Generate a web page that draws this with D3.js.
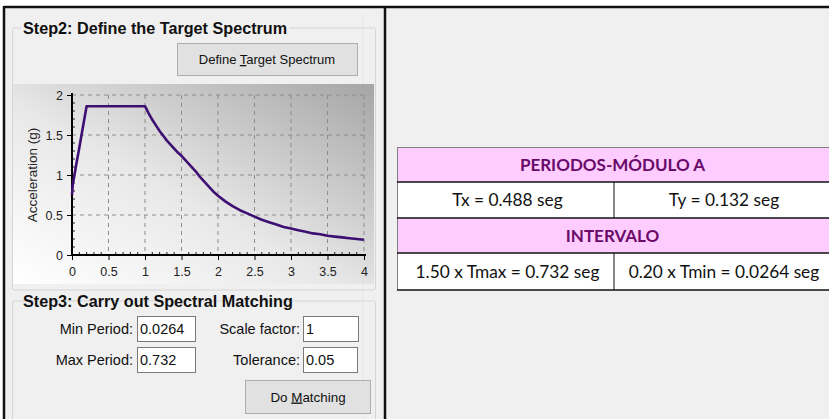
<!DOCTYPE html>
<html><head><meta charset="utf-8">
<script src="https://cdn.jsdelivr.net/npm/d3@7"></script>
<style>html,body{margin:0;padding:0;background:#fff;overflow:hidden}</style>
</head><body>
<svg id="c" width="829" height="419"></svg>
<script>
// ---- data ----
const periods = [0, 0.01, 0.03, 0.06, 0.1, 0.14, 0.2, 0.5, 1.0, 1.05, 1.1, 1.15, 1.2, 1.25, 1.3, 1.35, 1.4, 1.45, 1.5, 1.55, 1.6, 1.65, 1.7, 1.75, 1.8, 1.85, 1.9, 1.95, 2.0, 2.1, 2.2, 2.3, 2.4, 2.5, 2.6, 2.7, 2.8, 2.9, 3.0, 3.1, 3.2, 3.3, 3.4, 3.5, 3.6, 3.7, 3.8, 3.9, 4.0];
const accel = [0.75, 0.88, 0.98, 1.14, 1.34, 1.55, 1.86, 1.86, 1.86, 1.77, 1.69, 1.62, 1.55, 1.49, 1.43, 1.38, 1.33, 1.28, 1.24, 1.19, 1.14, 1.09, 1.04, 0.98, 0.93, 0.88, 0.83, 0.78, 0.74, 0.67, 0.61, 0.56, 0.52, 0.48, 0.44, 0.41, 0.38, 0.35, 0.33, 0.31, 0.29, 0.27, 0.26, 0.24, 0.23, 0.22, 0.21, 0.20, 0.19];
const xTicks = [0, 0.5, 1, 1.5, 2, 2.5, 3, 3.5, 4];
const yTicks = [0, 0.5, 1, 1.5, 2];
const yAxisTitle = "Acceleration (g)";
const step2Title = "Step2: Define the Target Spectrum";
const step3Title = "Step3: Carry out Spectral Matching";
const matchingLabels = ["Min Period:", "Max Period:", "Scale factor:", "Tolerance:"];
const matchingValues = ["0.0264", "0.732", "1", "0.05"];
const tableTitle = "PERIODOS-MÓDULO A";
const periodRow = ["Tx = 0.488 seg", "Ty = 0.132 seg"];
const intervalTitle = "INTERVALO";
const intervalRow = ["1.50 x Tmax = 0.732 seg", "0.20 x Tmin = 0.0264 seg"];

// ---- drawing ----
const svg = d3.select("#c");
const UI = "'Liberation Sans', Arial, sans-serif";
const XL = "Lato, 'Open Sans', sans-serif";

const defs = svg.append("defs");
const grad = defs.append("linearGradient").attr("id", "pg")
  .attr("x1", "0").attr("y1", "1").attr("x2", "1").attr("y2", "0");
grad.append("stop").attr("offset", "0").attr("stop-color", "#ffffff");
grad.append("stop").attr("offset", "0.45").attr("stop-color", "#e8e8e8");
grad.append("stop").attr("offset", "1").attr("stop-color", "#a5a5a5");

// panel backgrounds
svg.append("rect").attr("x", 4).attr("y", 7).attr("width", 382).attr("height", 412).attr("fill", "#f0f0f0");
svg.append("rect").attr("x", 386).attr("y", 7).attr("width", 443).attr("height", 412).attr("fill", "#f0f0f0");

// frame lines
svg.append("line").attr("x1", 4).attr("x2", 829).attr("y1", 7).attr("y2", 7).attr("stroke", "#111").attr("stroke-width", 2.5);
svg.append("line").attr("x1", 4).attr("x2", 4).attr("y1", 6).attr("y2", 419).attr("stroke", "#111").attr("stroke-width", 2.5);
svg.append("line").attr("x1", 385).attr("x2", 385).attr("y1", 6).attr("y2", 419).attr("stroke", "#111").attr("stroke-width", 2.5);

// group boxes
function groupBox(y0, y1, title) {
  svg.append("rect").attr("x", 12.5).attr("y", y0).attr("width", 363).attr("height", y1 - y0)
    .attr("rx", 2).attr("fill", "none").attr("stroke", "#d5d5d5");
  const t = svg.append("text").attr("x", 23).attr("y", y0 + 5.5).attr("font-family", UI)
    .attr("font-weight", "bold").attr("font-size", 16.2).attr("fill", "#111").text(title);
  const w = t.node().getComputedTextLength();
  svg.insert("rect", "text").attr("x", 21).attr("y", y0 - 3).attr("width", w + 4).attr("height", 8).attr("fill", "#f0f0f0");
}
groupBox(28, 290, step2Title);
groupBox(301, 425, step3Title);
svg.append("line").attr("x1", 363).attr("x2", 363).attr("y1", 14).attr("y2", 419).attr("stroke", "#e4e4e4");

// buttons
function button(x, y, w, h, pre, ul, post, tx, fs) {
  svg.append("rect").attr("x", x + 0.5).attr("y", y + 0.5).attr("width", w).attr("height", h)
    .attr("fill", "#e1e1e1").attr("stroke", "#adadad");
  const t = svg.append("text").attr("x", tx).attr("y", y + h / 2 + 5).attr("text-anchor", "middle")
    .attr("font-family", UI).attr("font-size", fs).attr("fill", "#111");
  t.append("tspan").text(pre);
  t.append("tspan").attr("text-decoration", "underline").text(ul);
  t.append("tspan").text(post);
}
button(177, 43, 180, 32, "Define ", "T", "arget Spectrum", 267, 13);
button(245, 380, 125, 33, "Do ", "M", "atching", 308, 13.4);

// chart panel
svg.append("rect").attr("x", 13).attr("y", 84).attr("width", 361).attr("height", 200).attr("fill", "url(#pg)");

const x = d3.scaleLinear().domain([0, 4]).range([72, 364]);
const y = d3.scaleLinear().domain([0, 2]).range([255, 95]);

const g = svg.append("g");
g.selectAll(".gx").data(xTicks.filter(d => d > 0)).join("line")
  .attr("x1", d => x(d)).attr("x2", d => x(d)).attr("y1", y(2)).attr("y2", y(0))
  .attr("stroke", "#8c8c8c").attr("stroke-width", 1).attr("stroke-dasharray", "4,4");
g.selectAll(".gy").data(yTicks.filter(d => d > 0)).join("line")
  .attr("x1", x(0)).attr("x2", x(4)).attr("y1", d => y(d)).attr("y2", d => y(d))
  .attr("stroke", "#8c8c8c").attr("stroke-width", 1).attr("stroke-dasharray", "4,4");

const xMinor = d3.range(1, 40).map(i => i / 10).filter(v => Math.abs(v * 2 - Math.round(v * 2)) > 1e-6);
g.selectAll(".mx").data(xMinor).join("line")
  .attr("x1", d => x(d)).attr("x2", d => x(d)).attr("y1", y(0)).attr("y2", y(0) - 3)
  .attr("stroke", "#222");
const yMinor = d3.range(1, 20).map(i => i / 10).filter(v => Math.abs(v * 2 - Math.round(v * 2)) > 1e-6);
g.selectAll(".my").data(yMinor).join("line")
  .attr("x1", x(0)).attr("x2", x(0) + 3).attr("y1", d => y(d)).attr("y2", d => y(d))
  .attr("stroke", "#222");

const fmt = d => String(d);
const xa = svg.append("g").attr("transform", `translate(0,${y(0)})`)
  .call(d3.axisBottom(x).tickValues(xTicks).tickFormat(fmt).tickSizeInner(5).tickSizeOuter(0).tickPadding(7));
const ya = svg.append("g").attr("transform", `translate(${x(0)},0)`)
  .call(d3.axisLeft(y).tickValues(yTicks).tickFormat(fmt).tickSizeInner(5).tickSizeOuter(0).tickPadding(4));
[xa, ya].forEach(a => {
  a.select(".domain").attr("stroke", "#000").attr("stroke-width", 2);
  a.selectAll(".tick line").attr("stroke", "#000");
  a.selectAll(".tick text").attr("font-family", UI).attr("font-size", 12.5).attr("fill", "#222");
});
xa.select(".domain").attr("d", `M${x(0)},0H${x(4) + 2}`);
ya.select(".domain").attr("d", `M0,${y(2) - 2}V${y(0) + 1}`);

svg.append("text").attr("transform", `translate(37,${(y(0) + y(2)) / 2}) rotate(-90)`)
  .attr("text-anchor", "middle").attr("font-family", UI).attr("font-size", 13.5).attr("fill", "#222")
  .text(yAxisTitle);

const pts = periods.map((p, i) => [p, accel[i]]);
svg.append("path").datum(pts)
  .attr("d", d3.line().x(d => x(d[0])).y(d => y(d[1])))
  .attr("fill", "none").attr("stroke", "#3e0f72").attr("stroke-width", 2.6).attr("stroke-linejoin", "round");

// matching inputs
const fieldLayout = [
  {lx: 133, bx: 137, bw: 58, by: 316},
  {lx: 133, bx: 137, bw: 58, by: 347},
  {lx: 300, bx: 303, bw: 55, by: 316},
  {lx: 300, bx: 303, bw: 54, by: 347}
];
matchingLabels.forEach((lab, i) => {
  const f = fieldLayout[i];
  svg.append("text").attr("x", f.lx).attr("y", f.by + 18).attr("text-anchor", "end")
    .attr("font-family", UI).attr("font-size", 14.5).attr("fill", "#111").text(lab);
  svg.append("rect").attr("x", f.bx + 0.5).attr("y", f.by + 0.5).attr("width", f.bw).attr("height", 25)
    .attr("fill", "#fff").attr("stroke", "#7a7a7a");
  svg.append("text").attr("x", f.bx + 3).attr("y", f.by + 18)
    .attr("font-family", UI).attr("font-size", 14.5).attr("fill", "#111").text(matchingValues[i]);
});

// table
const tx0 = 397, tx1 = 829, tmid = 614;
const rowsY = [147, 182, 218, 253, 290];
const rows = [
  {type: "head", cells: [tableTitle]},
  {type: "body", cells: periodRow},
  {type: "head", cells: [intervalTitle]},
  {type: "body", cells: intervalRow}
];
rows.forEach((r, i) => {
  const y0 = rowsY[i], y1 = rowsY[i + 1];
  svg.append("rect").attr("x", tx0).attr("y", y0).attr("width", tx1 - tx0).attr("height", y1 - y0)
    .attr("fill", r.type === "head" ? "#ffccff" : "#ffffff");
  if (r.type === "head") {
    svg.append("text").attr("x", (tx0 + 828) / 2).attr("y", (y0 + y1) / 2 + 6).attr("text-anchor", "middle")
      .attr("font-family", XL).attr("font-weight", "bold").attr("font-size", 17).attr("fill", "#690a69")
      .text(r.cells[0]);
  } else {
    const cx = [(tx0 + tmid) / 2 + 2, (tmid + 828) / 2 + 3];
    r.cells.forEach((c, j) => {
      svg.append("text").attr("x", cx[j]).attr("y", (y0 + y1) / 2 + 6).attr("text-anchor", "middle")
        .attr("font-family", XL).attr("font-size", 17.3).attr("fill", "#111").text(c);
    });
    svg.append("line").attr("x1", tmid).attr("x2", tmid).attr("y1", y0).attr("y2", y1).attr("stroke", "#111").attr("stroke-width", 1);
  }
});
svg.append("line").attr("x1", tx0).attr("x2", tx1).attr("y1", rowsY[0] + 0.5).attr("y2", rowsY[0] + 0.5).attr("stroke", "#808080");
svg.append("line").attr("x1", tx0 + 0.5).attr("x2", tx0 + 0.5).attr("y1", rowsY[0]).attr("y2", rowsY[4]).attr("stroke", "#808080");
rowsY.slice(1).forEach(yy => {
  svg.append("line").attr("x1", tx0).attr("x2", tx1).attr("y1", yy).attr("y2", yy).attr("stroke", "#111").attr("stroke-width", 1.5);
});
</script>
</body></html>
